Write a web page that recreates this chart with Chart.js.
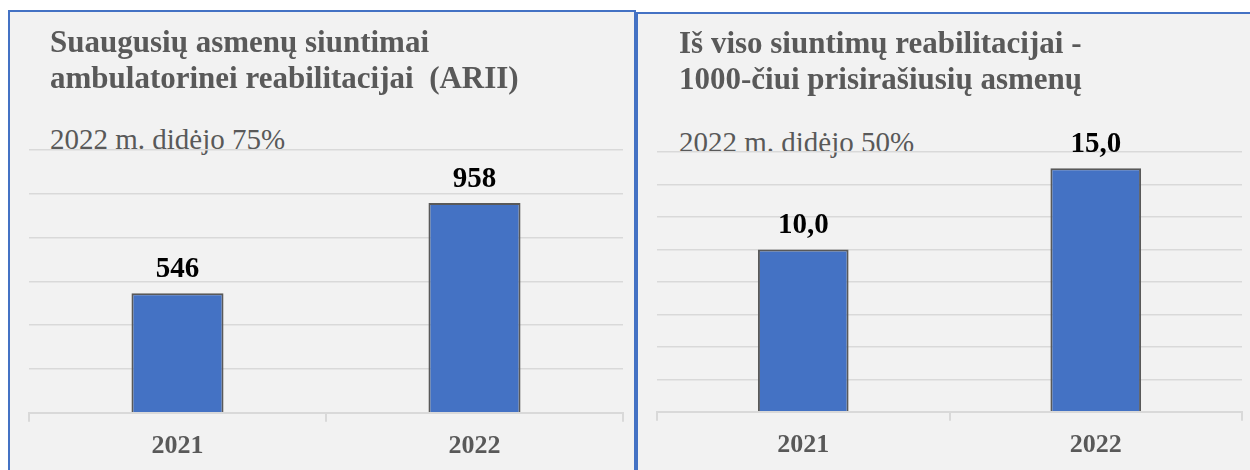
<!DOCTYPE html>
<html lang="lt">
<head>
  <meta charset="UTF-8">
  <title>Siuntimai reabilitacijai</title>
  <script src="https://cdn.jsdelivr.net/npm/chart.js@4.4.0/dist/chart.umd.min.js"></script>
  <style>
    html, body { margin: 0; padding: 0; }
    body {
      width: 1250px;
      height: 470px;
      overflow: hidden;
      position: relative;
      background: #ffffff;
      font-family: 'Liberation Serif', 'Times New Roman', serif;
    }
    .panel {
      position: absolute;
      background: #f2f2f2;
      border: 2px solid #4472c4;
      height: 520px;
    }
    #panelLeft { left: 8px; top: 10px; width: 624px; }
    #panelRight { left: 636px; top: 12px; width: 700px; }
    canvas { position: absolute; top: 0; z-index: 2; }
    #chartLeft { left: 0; }
    #chartRight { left: 636px; }
    .title {
      position: absolute;
      z-index: 3;
      color: #595959;
      font-weight: bold;
      font-size: 31px;
      line-height: 36px;
      white-space: nowrap;
    }
    .subtitle {
      position: absolute;
      z-index: 1;
      color: #595959;
      font-size: 29px;
      line-height: 29px;
      white-space: nowrap;
    }
  </style>
</head>
<body>
  <div class="panel" id="panelLeft"></div>
  <div class="panel" id="panelRight"></div>

  <div class="title" style="left:50px; top:24px;">Suaugusių asmenų siuntimai<br>ambulatorinei reabilitacijai&nbsp; (ARII)</div>
  <div class="subtitle" style="left:50px; top:125px;">2022 m. didėjo 75%</div>

  <div class="title" style="left:679px; top:25px;">Iš viso siuntimų reabilitacijai -<br>1000-čiui prisirašiusių asmenų</div>
  <div class="subtitle" style="left:679px; top:128px;">2022 m. didėjo 50%</div>

  <canvas id="chartLeft" width="636" height="480"></canvas>
  <canvas id="chartRight" width="614" height="480"></canvas>

  <script>
    // data
    const years = ['2021', '2022'];
    const referralsAdults = [546, 958];
    const referralsPer1000 = [10.0, 15.0];
    const leftAxis = { max: 1200, step: 200 };
    const rightAxis = { max: 16, step: 2 };

    const gridColor = '#d9d9d9';
    const textGray = '#595959';

    // numbers above the bars
    const valueLabels = {
      id: 'valueLabels',
      afterDatasetsDraw(chart, args, opts) {
        const ctx = chart.ctx;
        const meta = chart.getDatasetMeta(0);
        const values = chart.data.datasets[0].data;
        ctx.save();
        ctx.font = 'bold 29px "Liberation Serif"';
        ctx.fillStyle = '#000000';
        ctx.textAlign = 'center';
        ctx.textBaseline = 'alphabetic';
        meta.data.forEach((bar, i) => {
          const txt = values[i].toFixed(opts.decimals).replace('.', ',');
          ctx.fillText(txt, bar.x, bar.y - 16);
        });
        ctx.restore();
      }
    };

    function makeChart(id, values, axis, pad, decimals) {
      return new Chart(document.getElementById(id), {
        type: 'bar',
        data: {
          labels: years,
          datasets: [{
            data: values,
            backgroundColor: '#4472c4',
            borderColor: '#595959',
            borderWidth: 2,
            categoryPercentage: 1,
            barPercentage: 0.31
          }]
        },
        options: {
          responsive: false,
          animation: false,
          layout: { padding: pad },
          plugins: {
            legend: { display: false },
            tooltip: { enabled: false },
            valueLabels: { decimals: decimals }
          },
          scales: {
            x: {
              grid: {
                display: true,
                offset: true,
                drawOnChartArea: false,
                drawTicks: true,
                tickLength: 9,
                color: gridColor,
                lineWidth: 2
              },
              border: { display: true, color: gridColor, width: 2 },
              ticks: {
                color: textGray,
                padding: 9,
                font: { family: 'Liberation Serif', size: 26, weight: 'bold' }
              }
            },
            y: {
              min: 0,
              max: axis.max,
              ticks: { display: false, stepSize: axis.step },
              grid: { color: gridColor, lineWidth: 1.5, drawTicks: false },
              border: { display: false }
            }
          }
        },
        plugins: [valueLabels]
      });
    }

    makeChart('chartLeft', referralsAdults, leftAxis, { left: 29, right: 13, top: 150, bottom: 9 }, 0);
    makeChart('chartRight', referralsPer1000, rightAxis, { left: 21, right: 8, top: 152, bottom: 10 }, 1);
  </script>
</body>
</html>
